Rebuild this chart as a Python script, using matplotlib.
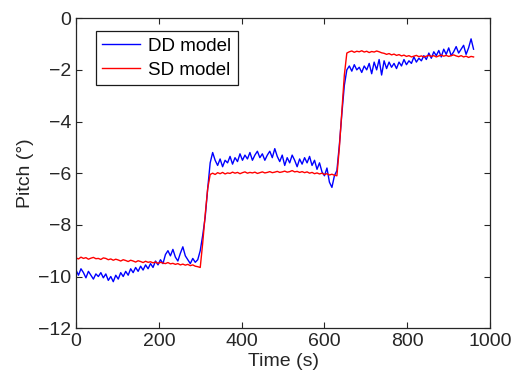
import matplotlib
matplotlib.use("Agg")
import matplotlib.pyplot as plt
import numpy as np

# time axis (s), sampled every 6 s
time = np.arange(0, 961, 6)

dd_model = [
    # first plateau (0-294 s)
    -9.75, -9.95, -9.7, -9.85, -10.05, -9.8, -9.95, -10.1, -9.9, -10.0,
    -9.85, -10.05, -9.9, -10.15, -10.0, -10.2, -9.95, -10.1, -9.85, -10.0,
    -9.8, -9.95, -9.7, -9.85, -9.65, -9.8, -9.6, -9.75, -9.55, -9.7,
    -9.5, -9.65, -9.4, -9.55, -9.35, -9.5, -9.15, -9.0, -9.2, -8.95,
    -9.25, -9.4, -9.1, -8.85, -9.2, -9.35, -9.5, -9.3, -9.45, -9.35,
    # step up (300-324 s)
    -9.0, -8.4, -7.7, -6.6, -5.6,
    # middle plateau (330-624 s)
    -5.2, -5.5, -5.7, -5.45, -5.75, -5.5, -5.6, -5.35, -5.65, -5.4,
    -5.55, -5.25, -5.5, -5.3, -5.45, -5.2, -5.5, -5.3, -5.15, -5.4,
    -5.25, -5.5, -5.3, -5.15, -5.4, -5.05, -5.35, -5.55, -5.3, -5.7,
    -5.4, -5.6, -5.3, -5.5, -5.75, -5.45, -5.65, -5.4, -5.6, -5.35,
    -5.7, -5.5, -5.85, -5.6, -5.95, -6.1, -5.8, -6.35, -6.55, -6.1,
    # step up (630-654 s)
    -5.9, -4.9, -3.7, -2.6, -2.0,
    # top plateau (660-960 s)
    -1.85, -2.05, -1.8, -2.0, -1.9, -2.1, -1.85, -2.0, -1.75, -2.15,
    -1.7, -2.0, -1.6, -2.2, -1.65, -1.95, -1.7, -1.9, -1.75, -1.95,
    -1.7, -1.85, -1.6, -1.8, -1.65, -1.75, -1.5, -1.7, -1.55, -1.65,
    -1.45, -1.6, -1.35, -1.55, -1.3, -1.45, -1.25, -1.5, -1.2, -1.4,
    -1.15, -1.45, -1.3, -1.1, -1.35, -1.2, -1.05, -1.4, -1.15, -0.8,
    -1.2,
]

sd_model = [
    -9.28, -9.32, -9.25, -9.3, -9.27, -9.33, -9.29, -9.26, -9.31, -9.3,
    -9.34, -9.28, -9.3, -9.35, -9.32, -9.37, -9.33, -9.36, -9.4, -9.35,
    -9.38, -9.42, -9.37, -9.4, -9.44, -9.39, -9.42, -9.46, -9.41, -9.45,
    -9.43, -9.47, -9.44, -9.49, -9.45, -9.48, -9.5, -9.46, -9.51, -9.49,
    -9.53, -9.5, -9.55, -9.52, -9.56, -9.53, -9.58, -9.55, -9.6, -9.62,
    -9.65, -8.7, -7.6, -6.6, -6.05,
    -6.0, -6.05, -5.98, -6.02, -5.97, -6.03, -5.99, -6.01, -5.96, -6.0,
    -5.97, -6.02, -5.98, -5.95, -6.0, -5.97, -5.99, -5.96, -6.01, -5.98,
    -5.95, -5.99, -5.97, -5.94, -5.98, -5.96, -5.93, -5.97, -5.95, -5.92,
    -5.96, -5.94, -5.9, -5.95, -5.93, -5.97, -5.94, -5.98, -5.95, -6.0,
    -5.97, -6.02, -5.99, -6.03, -6.0, -6.05, -6.02, -6.07, -6.04, -6.08,
    -6.1, -5.0, -3.6, -2.2, -1.35,
    -1.3, -1.27, -1.32, -1.28, -1.3, -1.26, -1.31, -1.28, -1.33, -1.29,
    -1.31, -1.27, -1.3, -1.34, -1.36, -1.4, -1.37, -1.42, -1.39, -1.44,
    -1.41, -1.46, -1.43, -1.48, -1.45, -1.5, -1.47, -1.44, -1.49, -1.46,
    -1.5, -1.47, -1.44, -1.48, -1.45, -1.5, -1.46, -1.43, -1.47, -1.44,
    -1.48, -1.45, -1.42, -1.46, -1.49, -1.45, -1.5, -1.47, -1.52, -1.48,
    -1.5,
]

x_ticks = [0, 200, 400, 600, 800, 1000]
y_ticks = [-12, -10, -8, -6, -4, -2, 0]

plt.rcParams['font.family'] = ['Liberation Sans', 'DejaVu Sans']

fig = plt.figure(figsize=(5.17, 3.87), dpi=100)
ax = fig.add_axes([0.147, 0.152, 0.801, 0.801])

ax.plot(time, dd_model, color=(0, 0, 1), lw=1.0, label="DD model")
ax.plot(time, sd_model, color=(1, 0, 0), lw=1.0, label="SD model")

ax.set_xlim(0, 1000)
ax.set_ylim(-12, 0)
ax.set_xticks(x_ticks)
ax.set_yticks(y_ticks)
ax.tick_params(direction="in", length=4, width=0.8, labelsize=14,
               top=True, right=True, colors="0.15")
for sp in ax.spines.values():
    sp.set_color("0.15")
    sp.set_linewidth(0.9)

ax.set_xlabel("Time (s)", fontsize=14, color="0.15", labelpad=2)
ax.set_ylabel("Pitch (°)", fontsize=14, color="0.15", labelpad=3)

leg = ax.legend(loc="upper left", bbox_to_anchor=(0.048, 0.958), fontsize=13.5,
                frameon=True, fancybox=False, edgecolor="0.1", framealpha=1,
                handlelength=2.0, handletextpad=0.45, borderpad=0.35,
                labelspacing=0.35, borderaxespad=0)
leg.get_frame().set_linewidth(0.9)

fig.savefig("out.png", dpi=100)
